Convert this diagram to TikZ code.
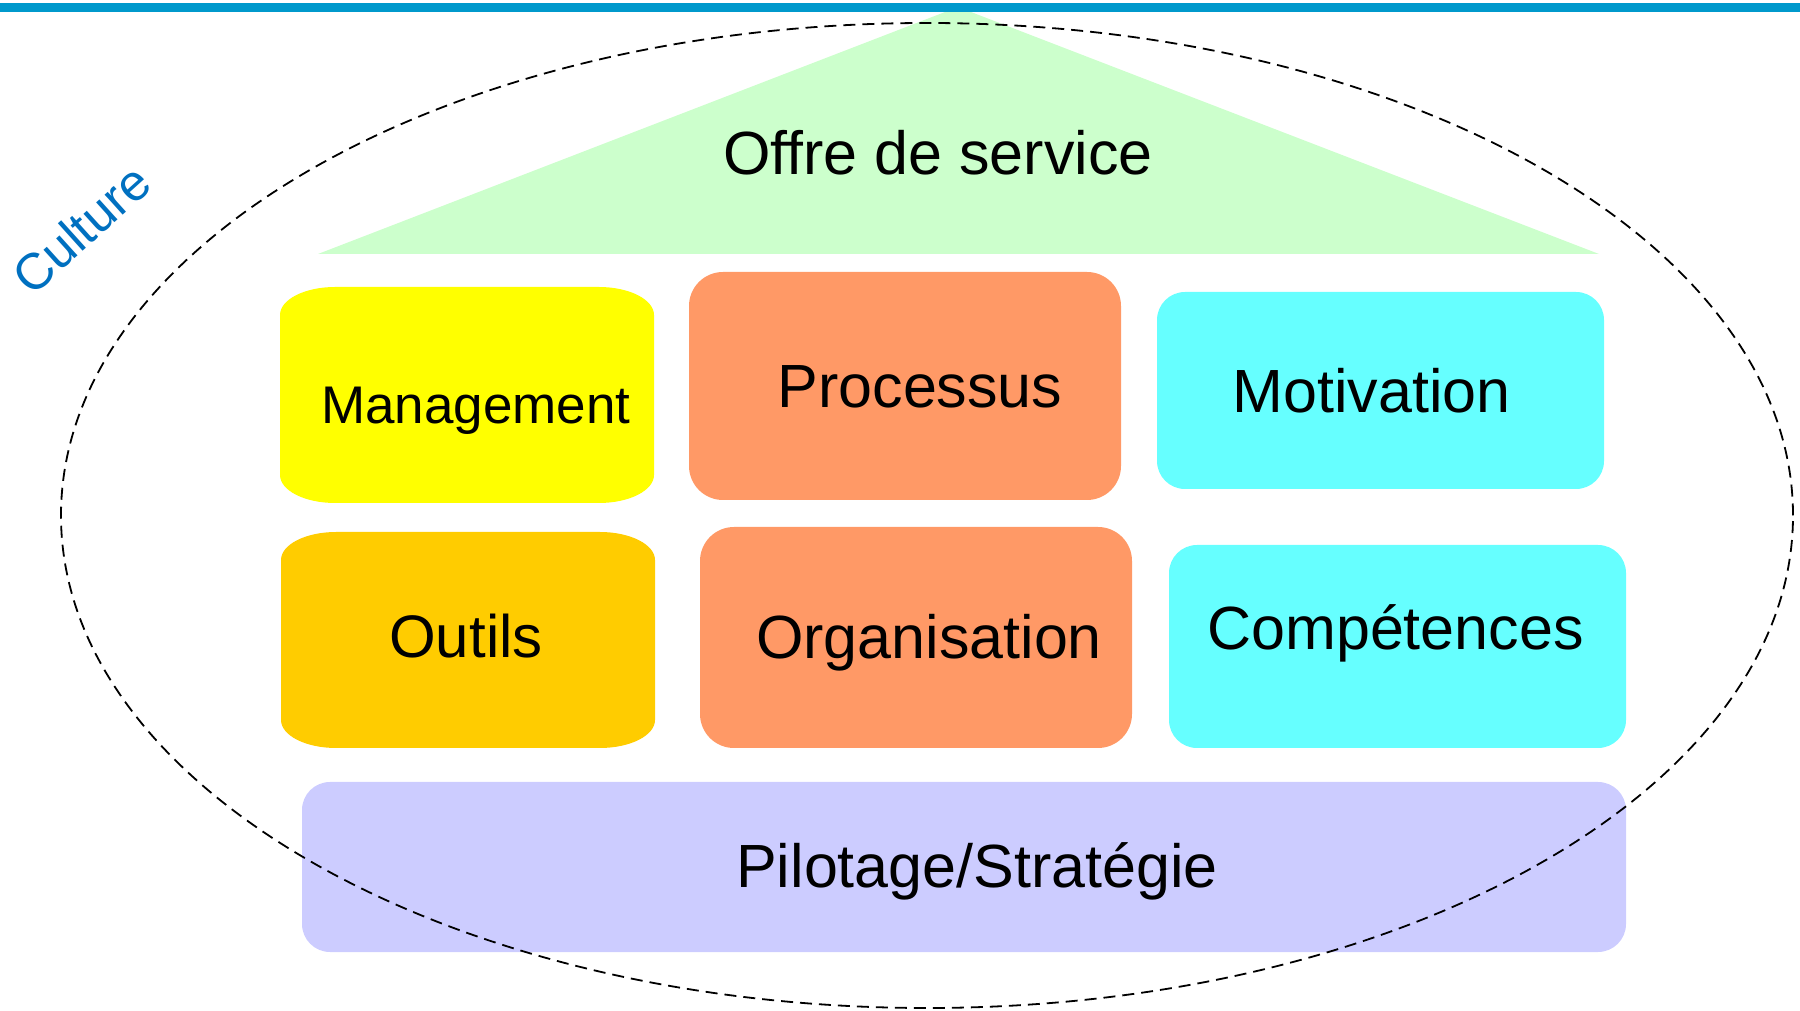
\documentclass[tikz,border=0pt]{standalone}
\usepackage{fontspec}
\setmainfont{Liberation Sans}
\definecolor{barblue}{RGB}{0,153,204}
\definecolor{roofgreen}{RGB}{204,255,204}
\definecolor{mgmtyellow}{RGB}{255,255,0}
\definecolor{toolorange}{RGB}{255,204,0}
\definecolor{salmon}{RGB}{255,153,102}
\definecolor{aqua}{RGB}{102,255,255}
\definecolor{lavender}{RGB}{204,204,255}
\definecolor{cultureblue}{RGB}{0,112,192}
\tikzset{
  pillar/.style={rectangle, rounded corners=#1, inner sep=0pt},
  word/.style={font=\fontsize{61}{70}\selectfont, text height=43.7pt, text depth=0pt, inner sep=0pt},
  rim/.style={draw=black, line width=1.8pt, dash pattern=on 12pt off 7pt}
}
\newcommand\softbox[5]{%
  \fill[#5] (#1+55,#4) -- (#3-55,#4)
    arc[start angle=90, end angle=0, x radius=55, y radius=28] -- (#3,#2+28)
    arc[start angle=0, end angle=-90, x radius=55, y radius=28] -- (#1+55,#2)
    arc[start angle=270, end angle=180, x radius=55, y radius=28] -- (#1,#4-28)
    arc[start angle=180, end angle=90, x radius=55, y radius=28] -- cycle;}

\begin{document}
\begin{tikzpicture}[x=1pt, y=1pt]
    \useasboundingbox (0,0) rectangle (1800,1010);

    \fill[roofgreen] (958,1003) -- (1599,756) -- (318,756) -- cycle;
    \fill[barblue] (0,998) rectangle (1800,1007);
    \node[word] (offre) at (938,857.5) {Offre de service};

    \softbox{280}{507}{654}{723}{mgmtyellow}
    \node[word, font=\fontsize{53}{60}\selectfont, text height=38pt] (mgmt) at (476,605.5) {Management};
    \softbox{281}{262}{655}{478}{toolorange}
    \node[word, font=\fontsize{60}{70}\selectfont, text height=43pt] (outils) at (466,373.5) {Outils};

    \node[pillar=34pt, fill=salmon, minimum width=432pt, minimum height=228pt] (proc) at (905,624) {};
    \node[word] (procT) at ([xshift=15pt]proc.center) {Processus};
    \node[pillar=34pt, fill=salmon, minimum width=432pt, minimum height=221pt] (orga) at (916,372.5) {};
    \node[word] (orgaT) at ([xshift=13pt,yshift=1pt]orga.center) {Organisation};

    \node[pillar=28pt, fill=aqua, minimum width=447pt, minimum height=197pt] (motiv) at (1380.5,619.5) {};
    \node[word] (motivT) at ([xshift=-9pt]motiv.center) {Motivation};
    \node[pillar=28pt, fill=aqua, minimum width=457pt, minimum height=203pt] (comp) at (1397.5,363.5) {};
    \node[word] (compT) at ([xshift=-2pt,yshift=19pt]comp.center) {Compétences};

    \node[pillar=28pt, fill=lavender, minimum width=1324pt, minimum height=170pt] (pilot) at (964,143) {};
    \node[word] (pilotT) at ([xshift=13pt,yshift=1.5pt]pilot.center) {Pilotage/Stratégie};

    \node[word, font=\fontsize{51}{60}\selectfont, text height=36.5pt, text=cultureblue, rotate=42] (culture) at (81,781) {Culture};

    \draw[rim] (927,494.5) ellipse[x radius=866, y radius=492.5];
\end{tikzpicture}
\end{document}
